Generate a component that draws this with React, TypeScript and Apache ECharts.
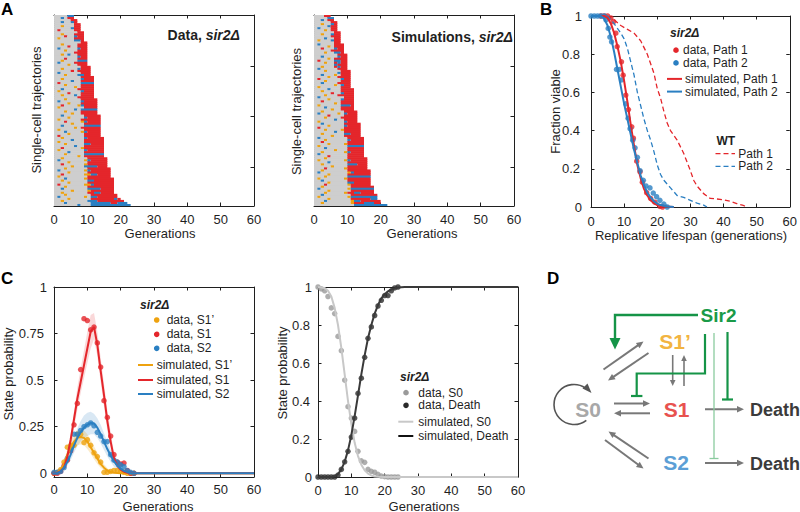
import React, { useEffect, useRef } from "react";
import * as echarts from "echarts";

const FONT = "'Liberation Sans', Arial, Helvetica, sans-serif";
const INK = "#1f1f1f";
const RED = "#e4262b";
const BLUE = "#2a7fc2";
const ORANGE = "#eea20f";
const S0_GRAY = "#cecece";

// ---------- Panel A: single-cell trajectories (one char per generation) ----------
// '.' = S0, 'o' = S1', 'r' = S1, 'b' = S2
const STATE_KEYS = [".", "o", "r", "b"];
const STATE_COLORS = [S0_GRAY, ORANGE, RED, BLUE];

const DATA_TRAJ = [
  "....bb", "..b.rr", ".....rr", "..b..br",
  "......rr", "..o...rr", ".....brr", ".r....rr",
  ".......rr", "..o...rrr", "...r..brr", ".o....rrr", "......bbr",
  "........rr", "..o....rrr", "....r..rrr", ".b.....brr", "...o...rrr", "......rrrr", "..o.b..rrr", ".......brr", "...r...rrr", "..o....bbb", ".b....rrrr", "....o..rrr",
  "........rrr", "..o....brrr", ".....r.rrrr", ".b......rrr", "...o...bbrr",
  "........rrrr", "..o.....brrr", ".....b..rrrr", ".r......bbbb", "...o....rrrr", "......o.rrrr", "..b....rrrrr", ".o......brrr", "....r...rrrr", "..o...b.rrrr", ".......rrrrr",
  "...o....rrrrr", ".b......brrrr", "....o...rrrrr", "..r....obrrrr", ".o.......rrrr", "......b.bbbbb", "...o....rrrrr", ".....o..rrrrr",
  "..b......rrrrr", "....o....brrrr", ".o......rrrrrr", "...r....obrrrr", ".....o...rrrrr", "..b......bbbbb", "......o.rrrrrr", ".o.......rrrrr", "...b....obrrrr", "....o....rrrrr", ".r.......rrrrr",
  "..o......brrrrr", ".....b...rrrrrr", ".o.......rrrrrr", "...o.....bbrrrr", "......b..rrrrrr", "..r.....orrrrrr", ".o.......brrrrr", "....b....rrrrrr", "...o.....bbbbbb", ".......o.rrrrrr",
  "..o.......rrrrrr", ".b.......obrrrrr", "....o.....rrrrrr", "..r......orrrrrr", ".....o...bbbbrrr",
  "...o......rrrrrrr", ".b.......obrrrrrr", "....o.....rrrrrrr", "..r......oobbrrrr", ".o........rrrrrrr",
  "...b.....orrrrrrrr", "..o.......bbrrrrrr", "....o.....rrrrrrrr", ".r.......oobrrrrrr", "...o......rrrrrrrr", "..b.......bbbbrrrr", ".....o....orrrrrrr", "..o.......rrbbrrrr",
  "...o.......rrrrrrrr", ".b.......o.bbrrrrrr",
  "....o......rrrrrrrbr", "..o.......bbbrrrrrrrr",
  "...b.......bbbbbbrrbbb", ".......b...bbbbbbbbbbbb",
];

const SIM_TRAJ = [
  "...rr", "....bb", "..b.rr",
  ".....rr", "..o..br", "....brr", ".b...rr", "...o.rr",
  "......rr", "..o..brr", ".....rrr", "...b..rr", ".o...brr", "......rr",
  ".b....rrr", "....o.rrr", "..r...brr", ".....rrrr", "...o..bbr",
  ".......rrr", "..b....brr", "....o.rrrr", ".r....bbrr", "...o..rbrr", "......brrr", "..o...rbrr", ".b.....rrr",
  "...o....rrr", ".......brrr", "..b...o.rrr", "....o..rrrr", ".r......brr", "...o....rrr", "..b....rrrr", "......o.brr", ".o......rrr",
  "....b...rrrr", "..o.....rrrr", ".....r..brrr", "...o...rrrrr", ".b.......rrr", "....o...brrr", "..r.....rrrr", "......o.rrrr", ".o......bbbr", "...b....rrrr", ".....o..rrrr",
  "..o......rrrr", ".b.....o.brrr", "....r....rrrr", "...o....rrrrr", "......b..rrrr", ".o.......brrr",
  "..b......rrrrr", "....o....brrrr", ".r.......rrrrr", "...o....orrrrr", "......b..rrrrr", "..o......bbrrr", ".....o...rrrrr",
  ".b........rrrrr", "...o......brrrr", "..r.......rrrrr", "....o....orrrrr", ".o........bbbbb", "...b......rrrrr", "......o...rrrrr", "..o......obrrrr", ".b........rrrrr", "....r.....rrrrr",
  "...o......rrrrrr", ".o.......obrrrrr", "....b.....rrrrrr", "..o.......bbbrrr", ".....o....rrrrrr", "...r.....orrrrrr",
  "..o.......rrrrrrr", ".b........obrrrrr", "....o.....rrrrrrr", "...o......bbbbbbb", ".o.......orrrrrrr", "..b.......rrrrrrr", "....o.....bbrrrrr", "...r......orrrrrr",
  "..o........rrrrrrr", ".b........obbbbbbb", "....o......rrrrrrr", "...o.....orrbbrrrr",
  "..b........rrrrrrrr", ".o........obbbbbbbb", "....o......rrrrrrbb",
  "...b.......obbrrrrrr", "..o........orrrbbbrr",
  "............bbbbbbbbbb",
];
const TRAJ_ROW_TICKS = [25, 50, 75];

// ---------- Panel B: survival ----------
const B_DATA_P1 = [[3, 1], [4, 1], [5, 1], [6, 0.99], [6.8, 0.97], [7.5, 0.91], [7.9, 0.84], [9.2, 0.76], [9.7, 0.69], [10.5, 0.586], [11.3, 0.51], [12.3, 0.42], [12.8, 0.36], [13.8, 0.24], [14.8, 0.185], [15.5, 0.13], [16.8, 0.075], [18, 0.045], [19.3, 0.025], [20.8, 0.003], [21.6, 0]];
const B_DATA_P2 = [[0, 1], [1, 1], [2, 1], [3, 1], [4, 1], [4.5, 0.98], [5.2, 0.935], [5.7, 0.89], [6.2, 0.865], [7.7, 0.72], [8.5, 0.72], [9.25, 0.665], [10.5, 0.54], [11.2, 0.465], [11.8, 0.41], [12.6, 0.35], [13.3, 0.31], [14, 0.26], [14.8, 0.19], [15.8, 0.14], [16.6, 0.11], [17.8, 0.1], [18.8, 0.073], [19.8, 0.054], [20.8, 0.035], [22, 0.015], [23, 0]];
const B_SIM_P1 = [[0, 1], [4, 1], [5, 0.99], [6, 0.96], [7, 0.91], [8, 0.84], [9, 0.76], [10, 0.66], [11, 0.55], [12, 0.43], [13, 0.32], [14, 0.22], [15, 0.15], [16, 0.095], [17, 0.06], [18, 0.035], [19, 0.02], [20, 0.01], [22, 0.003], [25, 0]];
const B_SIM_P2 = [[0, 1], [3, 1], [4, 0.985], [5, 0.95], [6, 0.89], [7, 0.81], [8, 0.72], [9, 0.63], [10, 0.54], [11, 0.46], [12, 0.38], [13, 0.3], [14, 0.23], [15, 0.165], [16, 0.115], [17, 0.075], [18, 0.05], [19, 0.03], [20, 0.018], [21, 0.01], [23, 0.003], [25, 0]];
const B_WT_P1 = [[0, 1], [5, 1], [7, 0.98], [9, 0.95], [11, 0.93], [13, 0.91], [15, 0.87], [17, 0.8], [19, 0.7], [20, 0.62], [21, 0.57], [22, 0.5], [23, 0.44], [24, 0.4], [26, 0.35], [28, 0.28], [30, 0.19], [31, 0.14], [32, 0.11], [34, 0.07], [36, 0.045], [38, 0.042], [40, 0.038], [42, 0.03], [44, 0.018], [46, 0.008], [47, 0]];
const B_WT_P2 = [[0, 1], [5, 1], [7, 0.96], [9, 0.91], [10, 0.88], [11, 0.83], [12, 0.76], [13, 0.69], [14, 0.6], [15, 0.53], [16, 0.46], [17, 0.4], [18, 0.35], [19, 0.29], [20, 0.22], [21, 0.17], [22, 0.14], [24, 0.1], [25, 0.08], [26, 0.06], [28, 0.05], [30, 0.035], [32, 0.02], [34, 0.01], [35, 0]];

// ---------- Panel C (left): S1', S1, S2 ----------
const C_GENS = [0, 1, 2, 3, 4, 5, 6, 7, 8, 9, 10, 11, 12, 13, 14, 15, 16, 17, 18, 19, 20, 21, 22, 23, 24];
const C_DATA_S1P = [0, 0.005, 0.02, 0.06, 0.14, 0.15, 0.15, 0.21, 0.21, 0.165, 0.18, 0.15, 0.11, 0.09, 0.06, 0.005, 0.005, 0.01, 0.015, 0.015, 0.01, 0.005, 0, 0, 0];
const C_DATA_S1 = [0, 0, 0.01, 0.04, 0.07, 0.12, 0.26, 0.375, 0.557, 0.83, 0.82, 0.77, 0.785, 0.7, 0.57, 0.39, 0.3, 0.2, 0.1, 0.06, 0.05, 0.055, 0.015, 0, 0];
const C_DATA_S2 = [0.005, 0.005, 0.01, 0.03, 0.08, 0.13, 0.21, 0.21, 0.23, 0.25, 0.26, 0.27, 0.255, 0.22, 0.2, 0.17, 0.17, 0.1, 0.07, 0.06, 0.045, 0.035, 0.014, 0.005, 0];
const C_SIM_S1P = [0, 0.005, 0.02, 0.05, 0.1, 0.14, 0.17, 0.19, 0.195, 0.19, 0.17, 0.14, 0.11, 0.08, 0.05, 0.03, 0.015, 0.007, 0.003, 0.001, 0, 0, 0, 0, 0];
const C_SIM_S1 = [0, 0.003, 0.012, 0.03, 0.09, 0.18, 0.29, 0.4, 0.49, 0.58, 0.67, 0.76, 0.785, 0.69, 0.55, 0.42, 0.28, 0.17, 0.08, 0.04, 0.02, 0.008, 0.003, 0.001, 0];
const C_SIM_S2 = [0, 0.002, 0.01, 0.03, 0.06, 0.1, 0.15, 0.19, 0.22, 0.245, 0.26, 0.27, 0.268, 0.245, 0.21, 0.17, 0.13, 0.095, 0.065, 0.04, 0.025, 0.013, 0.006, 0.002, 0];
const C_BAND_S1P_LO = [0, 0, 0.01, 0.035, 0.07, 0.105, 0.13, 0.15, 0.155, 0.15, 0.13, 0.105, 0.075, 0.05, 0.03, 0.015, 0.006, 0.002, 0, 0, 0, 0, 0, 0, 0];
const C_BAND_S1P_HI = [0, 0.005, 0.025, 0.065, 0.13, 0.175, 0.21, 0.23, 0.235, 0.23, 0.21, 0.18, 0.145, 0.11, 0.075, 0.048, 0.028, 0.014, 0.006, 0.002, 0, 0, 0, 0, 0];
const C_BAND_S1_LO = [0, 0, 0.005, 0.02, 0.06, 0.13, 0.24, 0.34, 0.43, 0.51, 0.59, 0.67, 0.72, 0.63, 0.49, 0.36, 0.23, 0.13, 0.06, 0.025, 0.01, 0.003, 0, 0, 0];
const C_BAND_S1_HI = [0, 0.005, 0.02, 0.045, 0.11, 0.21, 0.33, 0.46, 0.56, 0.66, 0.76, 0.85, 0.86, 0.76, 0.62, 0.48, 0.34, 0.22, 0.11, 0.06, 0.033, 0.015, 0.006, 0.002, 0];
const C_BAND_S2_LO = [0, 0, 0.005, 0.02, 0.04, 0.07, 0.11, 0.145, 0.17, 0.19, 0.2, 0.21, 0.21, 0.19, 0.16, 0.125, 0.09, 0.06, 0.035, 0.02, 0.01, 0.004, 0.001, 0, 0];
const C_BAND_S2_HI = [0.002, 0.006, 0.02, 0.045, 0.085, 0.135, 0.19, 0.24, 0.28, 0.31, 0.325, 0.33, 0.32, 0.295, 0.26, 0.215, 0.17, 0.125, 0.09, 0.06, 0.038, 0.022, 0.011, 0.004, 0];
const C_TAIL = [[60, 0]];

// ---------- Panel C (right): S0 and Death ----------
const C_DATA_S0 = [1, 0.99, 0.98, 0.95, 0.89, 0.86, 0.74, 0.665, 0.51, 0.37, 0.31, 0.24, 0.135, 0.085, 0.077, 0.04, 0.03, 0.025, 0.014, 0.005, 0.002, 0, 0, 0, 0];
const C_DATA_DEATH = [0, 0, 0, 0, 0, 0, 0.01, 0.04, 0.08, 0.135, 0.21, 0.31, 0.44, 0.52, 0.63, 0.73, 0.79, 0.85, 0.9, 0.93, 0.955, 0.955, 0.98, 0.995, 1];
const C_SIM_S0 = [[0, 1], [2, 0.995], [3, 0.98], [4, 0.95], [5, 0.89], [6, 0.8], [7, 0.68], [8, 0.54], [9, 0.4], [10, 0.28], [11, 0.18], [12, 0.11], [13, 0.065], [14, 0.035], [15, 0.018], [16, 0.008], [17, 0.003], [18, 0.001], [20, 0], [60, 0]];
const C_SIM_DEATH = [[0, 0], [4, 0], [5, 0.004], [6, 0.015], [7, 0.04], [8, 0.08], [9, 0.14], [10, 0.22], [11, 0.32], [12, 0.43], [13, 0.54], [14, 0.64], [15, 0.73], [16, 0.8], [17, 0.86], [18, 0.905], [19, 0.94], [20, 0.962], [21, 0.977], [22, 0.987], [23, 0.993], [24, 0.997], [26, 1], [60, 1]];

const C_LEFT_TICKS = [0, 0.25, 0.5, 0.75, 1];

// ---------- helpers ----------
function segments(rows: string[]) {
  const out: number[][] = [];
  rows.forEach((s, i) => {
    let j = 0;
    while (j < s.length) {
      let k = j;
      while (k < s.length && s[k] === s[j]) k++;
      out.push([i, j, k, STATE_KEYS.indexOf(s[j])]);
      j = k;
    }
  });
  return out;
}
const pair = (xs: number[], ys: number[]) => xs.map((x, i) => [x, ys[i]]);

function yFmt(v: number) {
  const r = Math.round(v * 100) / 100;
  return Number.isInteger(r) ? String(r) : `{d|${r}}`;
}

function axesFor(gi: number, x: any, y: any) {
  const line = { show: true, onZero: false, lineStyle: { color: INK, width: 1 } };
  const tick = (custom?: number[]) => ({ show: true, inside: true, length: 3.5, lineStyle: { color: INK, width: 1 }, ...(custom ? { customValues: custom } : {}) });
  const xb: any = {
    type: "value", gridIndex: gi, position: "bottom", min: x.min, max: x.max, interval: x.interval,
    axisLine: line, axisTick: tick(), splitLine: { show: false },
    axisLabel: { show: true, margin: x.margin, fontSize: 13, color: INK, fontFamily: FONT },
  };
  const xt = { ...xb, position: "top", axisLabel: { show: false } };
  const yLabel = y.labels
    ? {
        show: true, margin: y.margin, fontSize: 13, color: INK, fontFamily: FONT, formatter: yFmt,
        rich: { d: { fontSize: 13, color: INK, fontFamily: FONT, padding: [0, y.decPad, 0, 0] } },
        ...(y.custom ? { customValues: y.custom } : {}),
      }
    : { show: false };
  const yl: any = {
    type: "value", gridIndex: gi, position: "left", min: y.min, max: y.max, inverse: !!y.inverse,
    ...(y.interval ? { interval: y.interval } : {}),
    axisLine: line, axisTick: tick(y.custom), splitLine: { show: false }, axisLabel: yLabel,
  };
  const yr = { ...yl, position: "right", axisLabel: { show: false } };
  return { x: [xb, xt], y: [yl, yr] };
}

function txt(text: string, x: number, y: number, o: any = {}) {
  const align = o.align || "left";
  return {
    type: "text", x, y, silent: true, rotation: o.rot || 0, z: 10,
    style: {
      text, fill: o.fill || INK, fontSize: o.size || 13, fontFamily: FONT,
      fontWeight: o.bold ? "bold" : "normal", fontStyle: o.italic ? "italic" : "normal",
      align, verticalAlign: "middle", textAlign: align, textVerticalAlign: "middle",
      ...(o.lh ? { lineHeight: o.lh } : {}),
      ...(o.rich ? { rich: o.rich } : {}),
    },
  };
}
function seg(x1: number, y1: number, x2: number, y2: number, stroke: string, w: number, dash?: number[]) {
  return { type: "line", silent: true, z: 10, shape: { x1, y1, x2, y2 }, style: { stroke, lineWidth: w, ...(dash ? { lineDash: dash } : {}) } };
}
function arrow(x1: number, y1: number, x2: number, y2: number, color: string, w = 2, head = 7, half = 3.2) {
  const L = Math.hypot(x2 - x1, y2 - y1);
  const ux = (x2 - x1) / L, uy = (y2 - y1) / L;
  const bx = x2 - ux * head, by = y2 - uy * head;
  return [
    seg(x1, y1, bx + ux * 1, by + uy * 1, color, w),
    { type: "polygon", silent: true, z: 10, shape: { points: [[x2, y2], [bx - uy * half, by + ux * half], [bx + uy * half, by - ux * half]] }, style: { fill: color } },
  ];
}
function dot(cx: number, cy: number, fill: string, r = 2.8) {
  return { type: "circle", silent: true, z: 10, shape: { cx, cy, r }, style: { fill } };
}

const richTitle = (size: number) => ({
  n: { fontWeight: "bold", fontSize: size, fontFamily: FONT, fill: INK },
  i: { fontWeight: "bold", fontStyle: "italic", fontSize: size, fontFamily: FONT, fill: INK },
});

function buildOption() {
  const grids = [
    { left: 54, top: 15, width: 200, height: 191 },
    { left: 314, top: 15, width: 200, height: 191 },
    { left: 591, top: 16, width: 199, height: 191 },
    { left: 54, top: 287, width: 200, height: 190 },
    { left: 318, top: 287, width: 200, height: 190 },
  ];
  const gx = { min: 0, max: 60, interval: 10 };
  const a0 = axesFor(0, { ...gx, margin: 7 }, { min: 0, max: 94, inverse: true, custom: TRAJ_ROW_TICKS, labels: false });
  const a1 = axesFor(1, { ...gx, margin: 7 }, { min: 0, max: 94, inverse: true, custom: TRAJ_ROW_TICKS, labels: false });
  const a2 = axesFor(2, { ...gx, margin: 8 }, { min: 0, max: 1, interval: 0.2, labels: true, margin: 9, decPad: 2 });
  const a3 = axesFor(3, { ...gx, margin: 5.5 }, { min: -0.02, max: 1, custom: C_LEFT_TICKS, labels: true, margin: 7, decPad: 3 });
  const a4 = axesFor(4, { ...gx, margin: 6.5 }, { min: 0, max: 1, interval: 0.2, labels: true, margin: 6, decPad: 2 });
  const all = [a0, a1, a2, a3, a4];
  const xAxis = all.flatMap((a) => a.x);
  const yAxis = all.flatMap((a) => a.y);

  const trajSeries = (gi: number, rows: string[]) => ({
    type: "custom", xAxisIndex: 2 * gi, yAxisIndex: 2 * gi, silent: true, clip: true,
    data: segments(rows), encode: { x: [1, 2], y: 0 },
    renderItem: (_p: any, api: any) => {
      const r = api.value(0), s = api.value(1), e = api.value(2), st = api.value(3);
      const p0 = api.coord([s, r]);
      const p1 = api.coord([e, r + 1]);
      return { type: "rect", shape: { x: p0[0], y: p0[1], width: p1[0] - p0[0], height: p1[1] - p0[1] + 0.6 }, style: { fill: STATE_COLORS[st] } };
    },
  });
  const lineS = (gi: number, data: any, color: string, width = 2, dash?: any) => ({
    type: "line", xAxisIndex: 2 * gi, yAxisIndex: 2 * gi, data, symbol: "none", silent: true,
    lineStyle: { color, width, ...(dash ? { type: dash } : {}) },
  });
  const dots = (gi: number, data: any, color: string, size = 5.5) => ({
    type: "scatter", xAxisIndex: 2 * gi, yAxisIndex: 2 * gi, data, symbolSize: size, silent: true,
    itemStyle: { color },
  });
  const band = (gi: number, lo: number[], hi: number[], color: string) => ({
    type: "custom", xAxisIndex: 2 * gi, yAxisIndex: 2 * gi, silent: true, clip: true,
    data: [[C_GENS[0], lo[0]]], encode: { x: 0, y: 1 },
    renderItem: (_p: any, api: any) => {
      const upper = C_GENS.map((g, i) => api.coord([g, hi[i]]));
      const lower = C_GENS.map((g, i) => api.coord([g, lo[i]])).reverse();
      return { type: "polygon", shape: { points: upper.concat(lower) }, style: { fill: color } };
    },
  });

  const series: any[] = [
    trajSeries(0, DATA_TRAJ),
    trajSeries(1, SIM_TRAJ),
    lineS(2, B_WT_P1, RED, 1.3, [5, 3]),
    lineS(2, B_WT_P2, BLUE, 1.3, [5, 3]),
    lineS(2, B_SIM_P1, RED, 2),
    lineS(2, B_SIM_P2, BLUE, 2),
    dots(2, B_DATA_P1, RED),
    dots(2, B_DATA_P2, BLUE),
    band(3, C_BAND_S1_LO, C_BAND_S1_HI, "rgba(228,38,43,0.18)"),
    band(3, C_BAND_S2_LO, C_BAND_S2_HI, "rgba(42,127,194,0.18)"),
    band(3, C_BAND_S1P_LO, C_BAND_S1P_HI, "rgba(238,162,15,0.22)"),
    lineS(3, pair(C_GENS, C_SIM_S1P).concat(C_TAIL), ORANGE, 2),
    lineS(3, pair(C_GENS, C_SIM_S1).concat(C_TAIL), RED, 2),
    lineS(3, pair(C_GENS, C_SIM_S2).concat(C_TAIL), BLUE, 2),
    dots(3, pair(C_GENS, C_DATA_S1P), ORANGE),
    dots(3, pair(C_GENS, C_DATA_S1), RED),
    dots(3, pair(C_GENS, C_DATA_S2), BLUE),
    lineS(4, C_SIM_S0, "#c8c8c8", 2),
    lineS(4, C_SIM_DEATH, "#3a3a3a", 2),
    dots(4, pair(C_GENS, C_DATA_S0), "#9a9a9a"),
    dots(4, pair(C_GENS, C_DATA_DEATH), "#2a2a2a"),
  ];

  const GRAY_ARROW = "#787878";
  const GREEN = "#159447";
  const LIGHT_GREEN = "#8acb9e";
  const rot = Math.PI / 2;
  const L = { size: 12, lh: 11 };
  const graphic: any[] = [
    // panel letters
    txt("A", 1, 9, { bold: true, size: 17, fill: "#000" }),
    txt("B", 540, 9, { bold: true, size: 17, fill: "#000" }),
    txt("C", 1, 278, { bold: true, size: 17, fill: "#000" }),
    txt("D", 547, 278, { bold: true, size: 17, fill: "#000" }),
    // axis names
    txt("Generations", 160, 233, { align: "center" }),
    txt("Generations", 422, 233, { align: "center" }),
    txt("Replicative lifespan (generations)", 691, 235, { align: "center" }),
    txt("Generations", 158, 506, { align: "center" }),
    txt("Generations", 424, 506, { align: "center" }),
    txt("Single-cell trajectories", 36.5, 110, { align: "center", rot }),
    txt("Single-cell trajectories", 296.5, 111.5, { align: "center", rot }),
    txt("Fraction viable", 555, 111.5, { align: "center", rot }),
    txt("State probability", 8.5, 374, { align: "center", rot }),
    txt("State probability", 282, 373, { align: "center", rot }),
    // panel A titles
    txt("{n|Data, }{i|sir2Δ}", 240, 35, { align: "right", rich: richTitle(14) }),
    txt("{n|Simulations, }{i|sir2Δ}", 513, 37, { align: "right", rich: richTitle(14) }),
    // panel B legend
    txt("sir2Δ", 670, 33, { bold: true, italic: true, ...L }),
    dot(676, 50.2, RED), txt("data, Path 1", 683, 50.2, L),
    dot(676, 62.9, BLUE), txt("data, Path 2", 683, 62.9, L),
    seg(667, 78.9, 682, 78.9, RED, 2), txt("simulated, Path 1", 685, 78.9, L),
    seg(667, 91.6, 682, 91.6, BLUE, 2), txt("simulated, Path 2", 685, 91.6, L),
    txt("WT", 716.5, 140.5, { bold: true, ...L }),
    seg(715.5, 153.6, 735, 153.6, RED, 1.3, [5, 3]), txt("Path 1", 738.3, 153.6, L),
    seg(715.5, 166.3, 735, 166.3, BLUE, 1.3, [5, 3]), txt("Path 2", 738.3, 166.3, L),
    // panel C left legend
    txt("sir2Δ", 140, 305, { bold: true, italic: true, ...L }),
    dot(156.7, 320, ORANGE), txt("data, S1’", 166.7, 320, L),
    dot(156.7, 334.3, RED), txt("data, S1", 166.7, 334.3, L),
    dot(156.7, 348.3, BLUE), txt("data, S2", 166.7, 348.3, L),
    seg(138, 365, 153, 365, ORANGE, 2), txt("simulated, S1’", 156.7, 365, L),
    seg(138, 380, 153, 380, RED, 2), txt("simulated, S1", 156.7, 380, L),
    seg(138, 394, 153, 394, BLUE, 2), txt("simulated, S2", 156.7, 394, L),
    // panel C right legend
    txt("sir2Δ", 400, 376.7, { bold: true, italic: true, ...L }),
    dot(406, 392.7, "#9a9a9a"), txt("data, S0", 418.3, 392.7, L),
    dot(406, 405.3, "#2a2a2a"), txt("data, Death", 418.3, 405.3, L),
    seg(398.3, 421.7, 413.3, 421.7, "#c8c8c8", 2), txt("simulated, S0", 418.3, 421.7, L),
    seg(398.3, 436, 413.3, 436, "#111", 2), txt("simulated, Death", 418.3, 436, L),
    // panel D diagram
    { type: "arc", silent: true, z: 10, shape: { cx: 574, cy: 404.5, r: 20, startAngle: (52 * Math.PI) / 180, endAngle: (305 * Math.PI) / 180, clockwise: true }, style: { stroke: "#555", lineWidth: 1.6, fill: "none" } },
    { type: "polygon", silent: true, z: 10, shape: { points: [[591.5, 393], [582.5, 388.5], [587.5, 383.5]] }, style: { fill: "#555" } },
    ...arrow(614, 403.5, 650, 403.5, GRAY_ARROW),
    ...arrow(650, 413.3, 614, 413.3, GRAY_ARROW),
    ...arrow(603.5, 369.5, 643.5, 341.5, GRAY_ARROW),
    ...arrow(648.5, 353, 608, 380.5, GRAY_ARROW),
    ...arrow(648.5, 458.5, 608.5, 431.5, GRAY_ARROW),
    ...arrow(605, 440, 643.5, 468.5, GRAY_ARROW),
    ...arrow(672.7, 355, 672.7, 386, GRAY_ARROW, 1.6, 6, 2.8),
    ...arrow(684, 386, 684, 355, GRAY_ARROW, 1.6, 6, 2.8),
    ...arrow(705, 409.3, 744, 409.3, GRAY_ARROW),
    ...arrow(705, 463, 744, 463, GRAY_ARROW),
    // Sir2 regulation
    { type: "polyline", silent: true, z: 10, shape: { points: [[698, 315], [615, 315], [615, 340]] }, style: { stroke: GREEN, lineWidth: 2.4, fill: "none" } },
    { type: "polygon", silent: true, z: 10, shape: { points: [[609.5, 338], [620.5, 338], [615, 349.5]] }, style: { fill: GREEN } },
    { type: "polyline", silent: true, z: 10, shape: { points: [[705, 334], [705, 373.5], [636.7, 373.5], [636.7, 396]] }, style: { stroke: GREEN, lineWidth: 2.2, fill: "none" } },
    seg(631, 396, 642.4, 396, GREEN, 2.2),
    seg(714, 333, 714, 458.5, LIGHT_GREEN, 1.3),
    seg(709.5, 458.5, 718.5, 458.5, LIGHT_GREEN, 1.3),
    seg(727.5, 332, 727.5, 399.5, GREEN, 2.2),
    seg(722, 399.5, 733, 399.5, GREEN, 2.2),
    // node labels
    txt("Sir2", 718.5, 315, { align: "center", bold: true, size: 19, fill: "#1a9a48" }),
    txt("S1’", 675, 341.5, { align: "center", bold: true, size: 21, fill: "#f2b441" }),
    txt("S0", 588, 409, { align: "center", bold: true, size: 21, fill: "#a8a8a8" }),
    txt("S1", 676.5, 409, { align: "center", bold: true, size: 21, fill: "#e8524f" }),
    txt("S2", 676, 462.5, { align: "center", bold: true, size: 21, fill: "#5c9fd6" }),
    txt("Death", 750, 409.5, { bold: true, size: 18, fill: "#3b3b3b" }),
    txt("Death", 750, 463.5, { bold: true, size: 18, fill: "#3b3b3b" }),
  ];

  return {
    animation: false,
    backgroundColor: "#ffffff",
    textStyle: { fontFamily: FONT },
    grid: grids,
    xAxis,
    yAxis,
    series,
    graphic,
  };
}

export default function App() {
  const ref = useRef<HTMLDivElement>(null);
  useEffect(() => {
    const chart = echarts.init(ref.current as HTMLDivElement, null, { renderer: "svg" });
    chart.setOption(buildOption() as any);
    return () => chart.dispose();
  }, []);
  return <div ref={ref} style={{ position: "fixed", left: 0, top: 0, width: 800, height: 512, background: "#fff" }} />;
}
